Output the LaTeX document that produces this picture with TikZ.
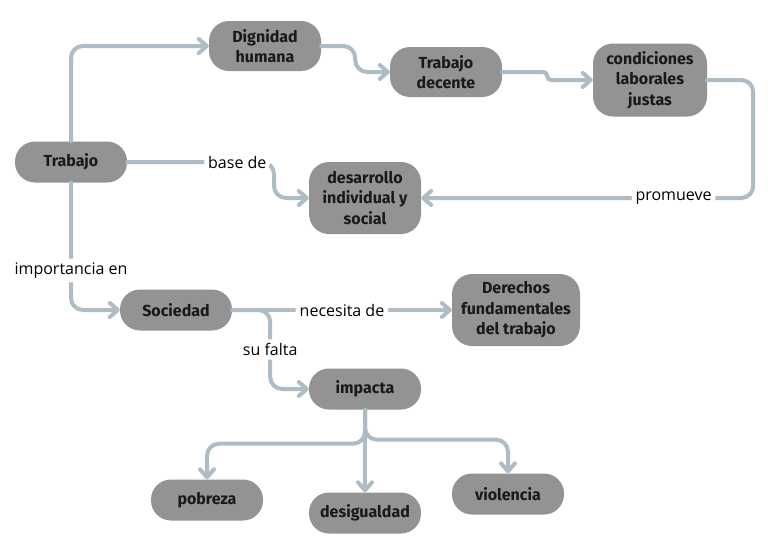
\documentclass[tikz,border=0pt]{standalone}
\usepackage{fontspec}
\setmainfont{Open Sans}
\newfontfamily\conceptfont{Fira Sans}
\usetikzlibrary{arrows.meta}
\definecolor{boxgray}{HTML}{939393}
\definecolor{linkgray}{HTML}{AEBCC5}
\tikzset{font=\fontsize{14}{19}\selectfont}
\tikzset{concept/.style={fill=boxgray, rounded corners=20pt, align=center,
    minimum width=112pt, minimum height=41pt, inner sep=3pt, text=black!90,
    font=\conceptfont\bfseries\fontsize{16}{20.5}\selectfont}}
\tikzset{link/.style={draw=linkgray, line width=4pt, rounded corners=12pt, line cap=round,
    -{Straight Barb[length=8pt,width=14pt,round]}}}
\tikzset{lbl/.style={fill=white, inner sep=4pt, font=\fontsize{16}{19}\selectfont}}

\begin{document}
\begin{tikzpicture}[x=1pt,y=-1pt]
  \fill[white] (0,0) rectangle (771,546);
  \useasboundingbox (0,0) rectangle (771,546);

  \node[concept] (trabajo) at (71,162) {Trabajo};
  \node[concept, minimum height=50pt] (dignidad) at (265,46) {Dignidad\\humana};
  \node[concept, minimum height=50pt] (decente) at (446,72) {Trabajo\\decente};
  \node[concept, minimum height=73pt, minimum width=114pt] (condiciones) at (650,80) {condiciones\\laborales\\justas};
  \node[concept, minimum height=72pt] (desarrollo) at (365,198) {desarrollo\\individual y\\social};
  \node[concept] (sociedad) at (176,310) {Sociedad};
  \node[concept, minimum height=72pt, minimum width=128pt] (derechos) at (516,310) {Derechos\\fundamentales\\del trabajo};
  \node[concept] (impacta) at (365,389) {impacta};
  \node[concept] (pobreza) at (207,500) {pobreza};
  \node[concept] (desigualdad) at (365,513) {desigualdad};
  \node[concept] (violencia) at (508,494) {violencia};

  % upper chain
  \draw[link] (trabajo.north) |- (dignidad.west);
  \draw[link] (dignidad.east) -- ++(34,0) |- (decente.west);
  \draw[link, rounded corners=4pt] (decente.east) -- ++(45,0) |- (condiciones.west);
  \draw[link] (condiciones.east) -- ++(46,0) |- node[lbl, pos=0.62] {promueve} (desarrollo.east);
  \draw[link] (trabajo.east) -- node[lbl, pos=0.75] {base de} (274,162) |- (desarrollo.west);

  % society
  \draw[link] (trabajo.south) |- node[lbl, pos=0.345] {importancia en} (sociedad.west);
  \draw[link] (sociedad) -- node[lbl, pos=0.5] {necesita de} (derechos);
  \draw[link] (sociedad.east) -- ++(38,0) |- node[lbl, pos=0.25] {su falta} (impacta.west);

  % effects
  \draw[link] (impacta.south) -- ++(0,34) -| (pobreza.north);
  \draw[link] (impacta.south) -- (desigualdad.north);
  \draw[link] (impacta.south) -- ++(0,30) -| (violencia.north);
\end{tikzpicture}
\end{document}
